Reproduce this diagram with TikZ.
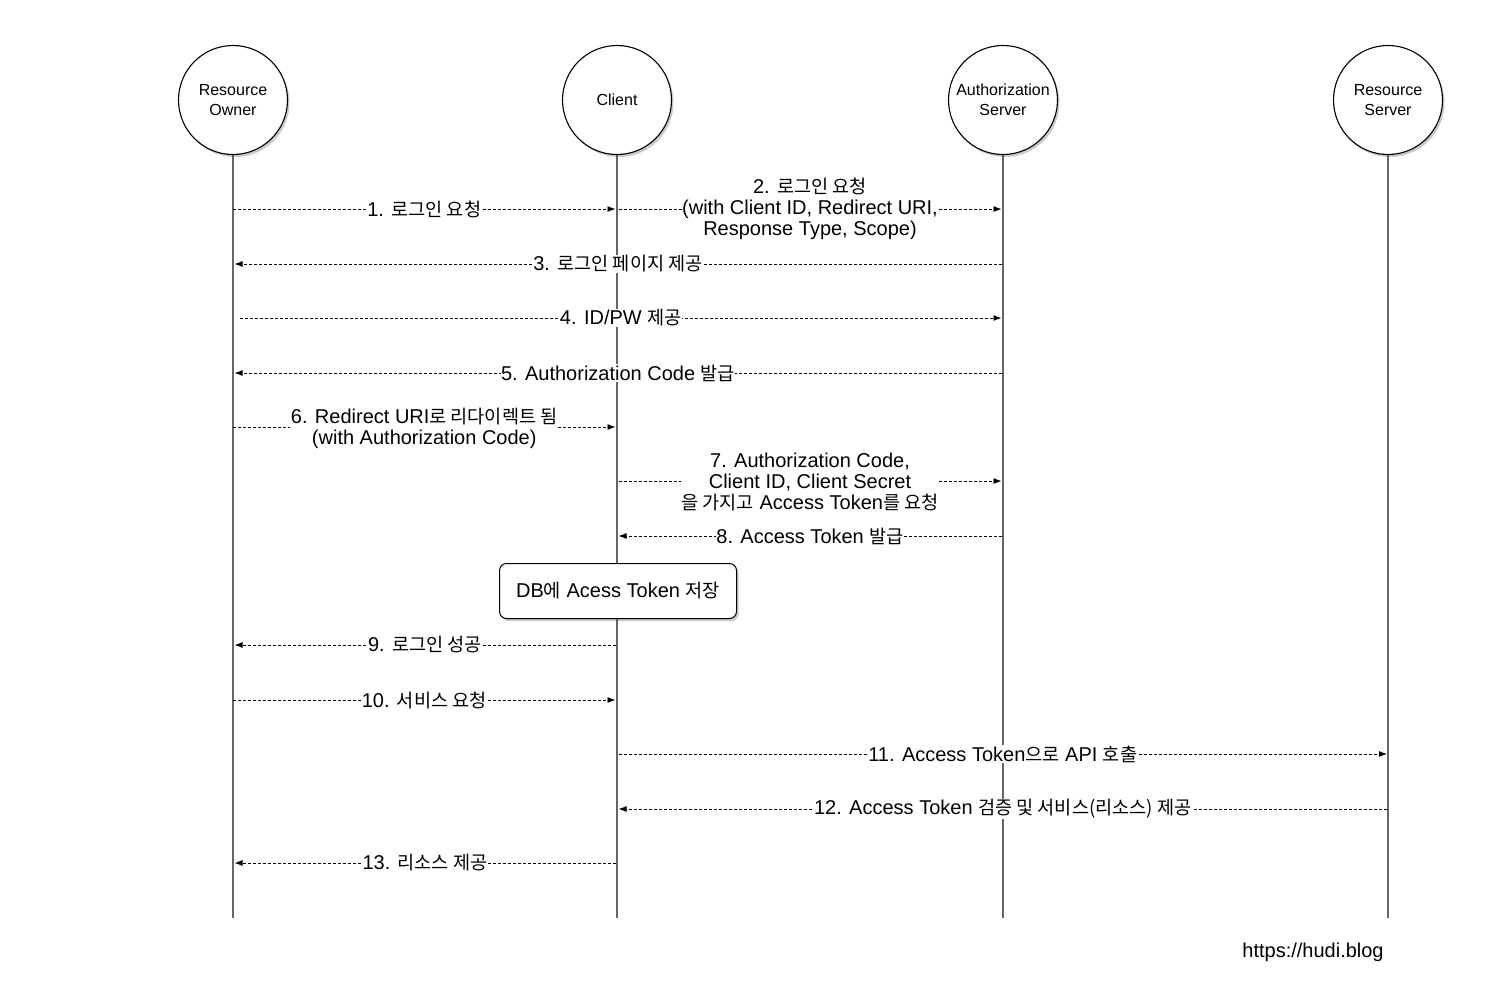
\documentclass[tikz,border=0pt]{standalone}
\usepackage{fontspec}
\setmainfont{Liberation Sans}
\newfontfamily\kr[Scale=0.93]{Noto Sans CJK KR}
\newcommand\K[1]{{\kr #1}}
\usetikzlibrary{arrows.meta,shadows}
\begin{document}
\begin{tikzpicture}[x=1pt,y=-1pt,
 actor/.style={circle, draw=black, line width=1.1pt, fill=white, minimum size=109pt, inner sep=0pt, align=center,
   font=\fontsize{16}{20.5}\selectfont,
   drop shadow={shadow xshift=2pt, shadow yshift=-2.5pt, opacity=0.3, fill=black!70}},
 life/.style={draw=black!60, line width=1.7pt},
 msg/.style={dash pattern=on 3pt off 2pt, line width=0.9pt, -{Latex[length=8pt,width=6pt]}},
 lbl/.style={fill=white, inner sep=0.5pt, align=center, font=\fontsize{20}{20.8}\selectfont},
 note/.style={draw=black, line width=1pt, rounded corners=7pt, fill=white, minimum width=237pt, minimum height=55pt,
   font=\fontsize{20}{21}\selectfont,
   drop shadow={shadow xshift=2pt, shadow yshift=-2.5pt, opacity=0.3, fill=black!70}}
]
\useasboundingbox (0,0) rectangle (1496,1004);
% actors
\coordinate (roC) at (233,100);
\coordinate (clC) at (617,100);
\coordinate (asC) at (1003,100);
\coordinate (rsC) at (1388,100);
\coordinate (roB) at (233,918);
\coordinate (clB) at (617,918);
\coordinate (asB) at (1003,918);
\coordinate (rsB) at (1388,918);
\draw[life] (roC) -- (roB);
\draw[life] (clC) -- (clB);
\draw[life] (asC) -- (asB);
\draw[life] (rsC) -- (rsB);
\node[actor] (ro) at (roC) {Resource\\Owner};
\node[actor] (cl) at (clC) {Client};
\node[actor] (as) at (asC) {Authorization\\Server};
\node[actor] (rs) at (rsC) {Resource\\Server};

% messages
\coordinate (a1) at (233,209); \coordinate (b1) at (615.5,209);
\draw[msg] (a1) -- node[lbl] (l1) {1. \K{로그인 요청}} (b1);

\coordinate (a2) at (618.5,209); \coordinate (b2) at (1001.5,209);
\draw[msg] (a2) -- node[lbl] (l2) {2. \K{로그인 요청}\\(with Client ID, Redirect URI,\\Response Type, Scope)} (b2);

\coordinate (a3) at (1001.5,264); \coordinate (b3) at (234.5,264);
\draw[msg] (a3) -- node[lbl] (l3) {3. \K{로그인 페이지 제공}} (b3);

\coordinate (a4) at (240,318); \coordinate (b4) at (1001.5,318);
\draw[msg] (a4) -- node[lbl] (l4) {4. ID/PW \K{제공}} (b4);

\coordinate (a5) at (1001.5,373); \coordinate (b5) at (234.5,373);
\draw[msg] (a5) -- node[lbl] (l5) {5. Authorization Code \K{발급}} (b5);

\coordinate (a6) at (233,427); \coordinate (b6) at (615.5,427);
\draw[msg] (a6) -- node[lbl, yshift=-1pt] (l6) {6. Redirect URI\K{로 리다이렉트 됨}\\(with Authorization Code)} (b6);

\coordinate (a7) at (618.5,481); \coordinate (b7) at (1001.5,481);
\draw[msg] (a7) -- node[lbl, yshift=-1pt] (l7) {7. Authorization Code,\\Client ID, Client Secret\\\K{을 가지고} Access Token\K{를 요청}} (b7);

\coordinate (a8) at (1001.5,536); \coordinate (b8) at (618.5,536);
\draw[msg] (a8) -- node[lbl] (l8) {8. Access Token \K{발급}} (b8);

\node[note] (db) at (618,591) {DB\K{에} Acess Token \K{저장}};

\coordinate (a9) at (615.5,645); \coordinate (b9) at (234.5,645);
\draw[msg] (a9) -- node[lbl] (l9) {9. \K{로그인 성공}} (b9);

\coordinate (a10) at (233,700); \coordinate (b10) at (615.5,700);
\draw[msg] (a10) -- node[lbl] (l10) {10. \K{서비스 요청}} (b10);

\coordinate (a11) at (618.5,754); \coordinate (b11) at (1387,754);
\draw[msg] (a11) -- node[lbl] (l11) {11. Access Token\K{으로} API \K{호출}} (b11);

\coordinate (a12) at (1387,809); \coordinate (b12) at (618.5,809);
\draw[msg] (a12) -- node[lbl] (l12) {12. Access Token \K{검증 및 서비스(리소스) 제공}} (b12);

\coordinate (a13) at (615.5,863); \coordinate (b13) at (234.5,863);
\draw[msg] (a13) -- node[lbl] (l13) {13. \K{리소스 제공}} (b13);

\node[font=\fontsize{20}{21}\selectfont] (url) at (1313,952) {https://hudi.blog};
\end{tikzpicture}
\end{document}
